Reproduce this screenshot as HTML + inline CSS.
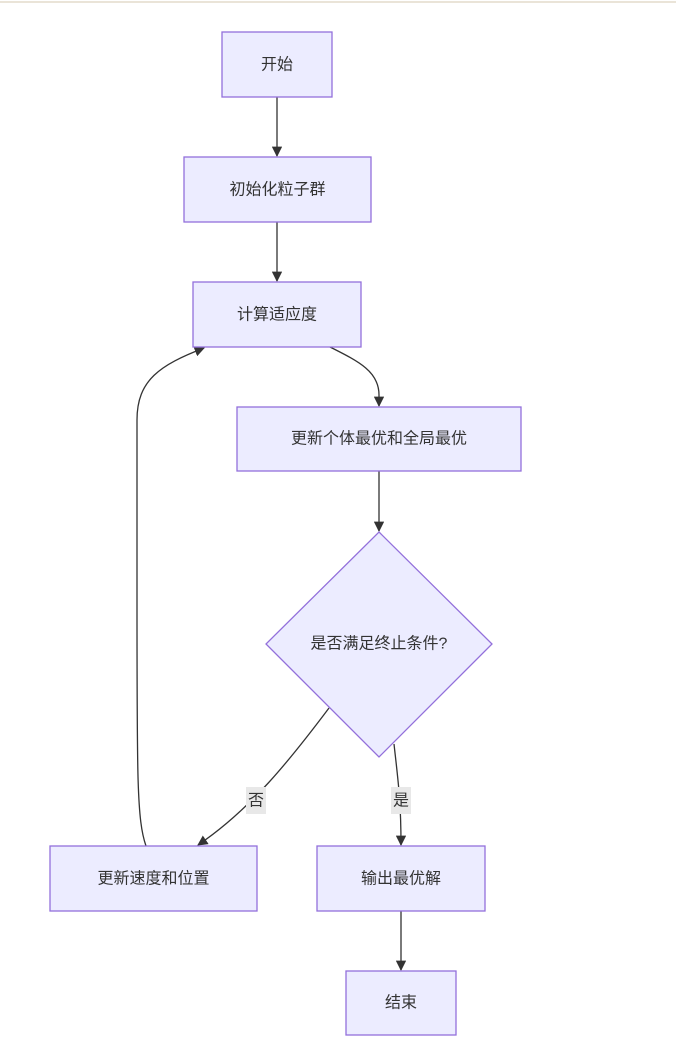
<!DOCTYPE html>
<html><head><meta charset="utf-8"><style>
body{margin:0;background:#fff;}
svg{display:block;}
text{font-family:"Liberation Sans","Noto Sans CJK SC",sans-serif;font-size:16px;fill:#333;text-anchor:middle;dominant-baseline:central;}
.n{fill:#ECECFF;stroke:#9370DB;stroke-width:1.3;}
.e{fill:none;stroke:#333;stroke-width:1.3;}
</style></head><body>
<svg width="676" height="1063" viewBox="0 0 676 1063">
<defs><marker id="a" viewBox="0 0 10 10" refX="9" refY="5" markerWidth="8" markerHeight="8" orient="auto"><path d="M0,0L10,5L0,10z" fill="#333"/></marker></defs>
<line x1="0" y1="2" x2="676" y2="2" stroke="#e3dccb" stroke-width="1.5"/>
<path class="e" d="M277,97V156" marker-end="url(#a)"/>
<path class="e" d="M277,222V281" marker-end="url(#a)"/>
<path class="e" d="M330,347C360,362 379,372 379,395V406" marker-end="url(#a)"/>
<path class="e" d="M379,471V531" marker-end="url(#a)"/>
<path class="e" d="M329,708C290,760 250,810 198,845" marker-end="url(#a)"/>
<path class="e" d="M394,744C398,780 401,800 401,845" marker-end="url(#a)"/>
<path class="e" d="M401,911V970" marker-end="url(#a)"/>
<path class="e" d="M146,846C137,820 137,780 137,600V420C137,380 160,365 204,348" marker-end="url(#a)"/>
<rect class="n" x="222" y="32" width="110" height="65"/><text x="277" y="65">开始</text>
<rect class="n" x="184" y="157" width="187" height="65"/><text x="277.5" y="190">初始化粒子群</text>
<rect class="n" x="193" y="282" width="168" height="65"/><text x="277" y="315">计算适应度</text>
<rect class="n" x="237" y="407" width="284" height="64"/><text x="379" y="439">更新个体最优和全局最优</text>
<polygon class="n" points="379,532 492,644 379,757 266,644"/><text x="379" y="644">是否满足终止条件?</text>
<rect class="n" x="50" y="846" width="207" height="65"/><text x="153.5" y="879">更新速度和位置</text>
<rect class="n" x="317" y="846" width="168" height="65"/><text x="401" y="879">输出最优解</text>
<rect class="n" x="346" y="971" width="110" height="64"/><text x="401" y="1003">结束</text>
<rect x="246" y="787" width="20" height="27" fill="#e8e8e8"/><text x="256" y="801">否</text>
<rect x="391" y="787" width="20" height="27" fill="#e8e8e8"/><text x="401" y="801">是</text>
</svg>
</body></html>
